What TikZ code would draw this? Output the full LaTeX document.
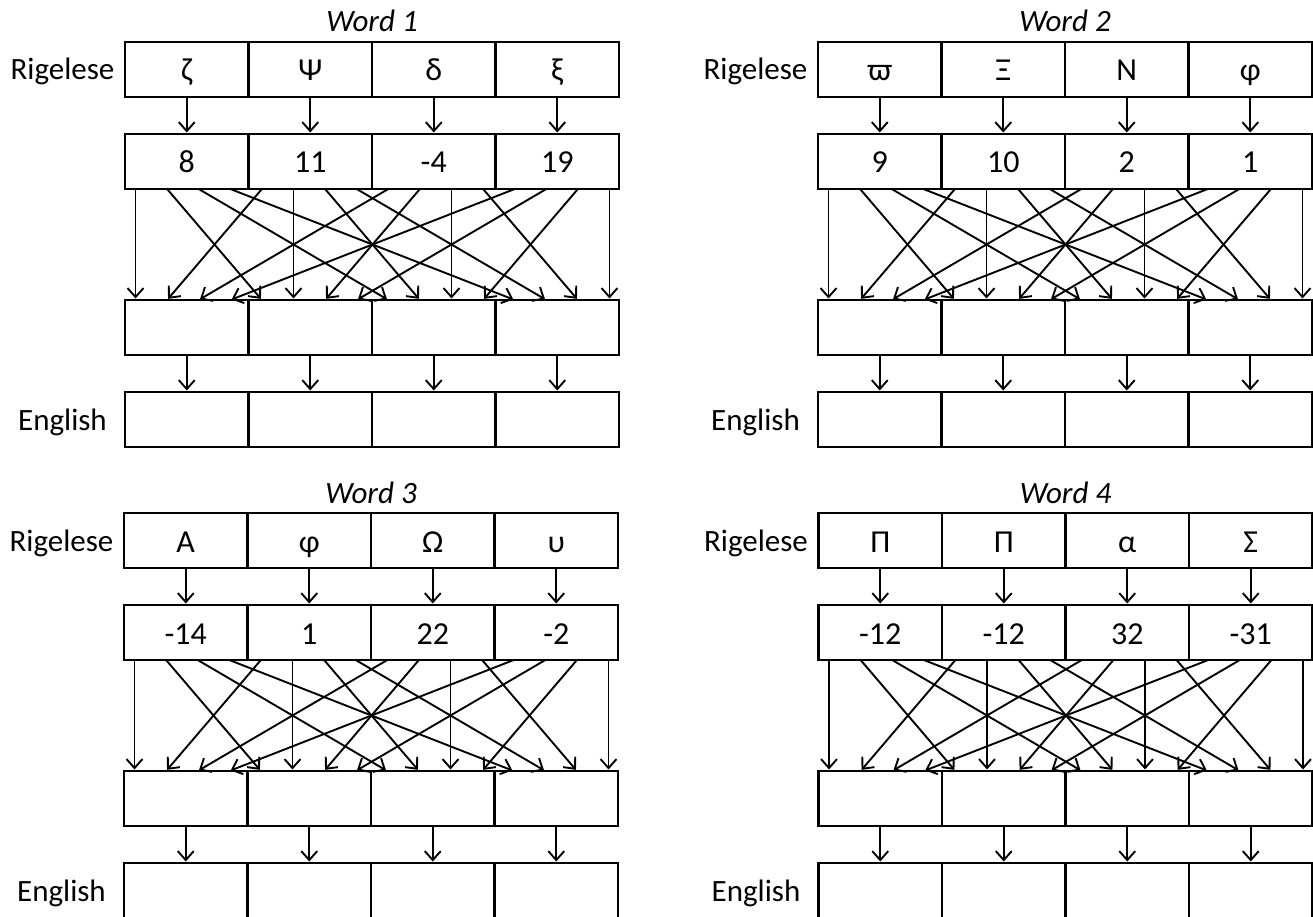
\documentclass[tikz,border=0pt]{standalone}
\usepackage{fontspec}
\setmainfont{Carlito}
\usetikzlibrary{arrows.meta,calc}
\tikzset{
  cellbox/.style={draw, line width=2.6pt, outer sep=0pt, inner sep=0pt,
    minimum width=123.5pt, minimum height=55pt, anchor=north west,
    text height=23pt, text depth=0pt,
    font=\fontsize{32}{36}\selectfont},
  lab/.style={font=\fontsize{31}{35}\selectfont, inner sep=0pt, anchor=base},
  ttl/.style={font=\fontsize{31}{35}\selectfont\itshape, inner sep=0pt, anchor=base},
  arr/.style={line width=1.9pt,
    -{Straight Barb[length=9pt,width=16pt,line width=1.9pt]}, shorten >=1.5pt},
}
\newcommand\wordpanel[5]{%
  \node[ttl] (#1t) at (#2+247, #3-10) {#4};
  \node[lab] (#1rl) at (#2-62.5, #3+38) {Rigelese};
  \node[lab] (#1el) at (#2-62.5, #3+388) {English};
  \foreach \s/\n [count=\i from 0] in {#5} {
    \node[cellbox] (#1r\i) at (#2+\i*123.5, #3) {\s};
    \node[cellbox] (#1n\i) at (#2+\i*123.5, #3+92) {\n};
    \node[cellbox] (#1m\i) at (#2+\i*123.5, #3+258) {};
    \node[cellbox] (#1e\i) at (#2+\i*123.5, #3+350) {};
  }
  \foreach \i in {0,...,3} {
    \draw[arr] (#1r\i.south) -- (#1n\i.north);
    \draw[arr] (#1m\i.south) -- (#1e\i.north);
    \foreach \j in {0,...,3} {
      \draw[arr] ([xshift={(10.5+31.6*\j+2.9*\i)*1pt}]#1n\i.south west)
        -- ([xshift={(10.5+31.6*\i+2.9*\j)*1pt}]#1m\j.north west);
    }
  }
}
\begin{document}
\begin{tikzpicture}[x=1pt, y=-1pt]
  \useasboundingbox (0,0) rectangle (1313,917);
  \wordpanel{a}{125}{42}{Word 1}{ζ/8, Ψ/11, δ/-4, ξ/19}
  \wordpanel{b}{818}{42}{Word 2}{ϖ/9, Ξ/10, N/2, φ/1}
  \wordpanel{c}{124}{513}{Word 3}{A/-14, φ/1, Ω/22, υ/-2}
  \wordpanel{d}{818.5}{513}{Word 4}{Π/-12, Π/-12, α/32, Σ/-31}
\end{tikzpicture}
\end{document}
